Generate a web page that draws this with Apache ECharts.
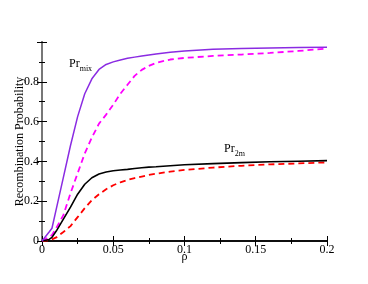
<!DOCTYPE html>
<html><head><meta charset="utf-8">
<script src="https://cdn.jsdelivr.net/npm/echarts@6/dist/echarts.min.js"></script>
<style>html,body{margin:0;padding:0;background:#fff}#c{width:368px;height:284px}</style>
</head><body><div id="c"></div>
<script>
const rho = [0,0.005,0.007,0.01,0.015,0.02,0.025,0.03,0.035,0.04,0.045,0.05,0.055,0.06,0.065,0.07,0.075,0.08,0.09,0.1,0.12,0.14,0.16,0.18,0.2];
const prMixSolid = [0,0.045,0.064,0.16,0.32,0.48,0.625,0.74,0.815,0.862,0.887,0.9,0.91,0.918,0.924,0.93,0.935,0.94,0.948,0.955,0.963,0.967,0.97,0.972,0.973];
const prMixDashed = [0,0.02,0.03,0.065,0.13,0.24,0.34,0.44,0.52,0.59,0.635,0.685,0.74,0.785,0.83,0.86,0.88,0.895,0.912,0.92,0.93,0.937,0.945,0.955,0.967];
const pr2mSolid = [0,0.008,0.018,0.05,0.11,0.17,0.235,0.285,0.318,0.337,0.347,0.353,0.357,0.36,0.364,0.368,0.371,0.373,0.378,0.383,0.389,0.394,0.398,0.401,0.404];
const pr2mDashed = [0,0.004,0.008,0.018,0.045,0.075,0.12,0.165,0.205,0.235,0.26,0.28,0.295,0.307,0.316,0.324,0.332,0.338,0.349,0.357,0.369,0.378,0.385,0.39,0.395];
const xTicks = [0,0.05,0.1,0.15,0.2];
const yTicks = [0,0.2,0.4,0.6,0.8];

const F = '"Liberation Serif","DejaVu Serif",serif';
const pairs = ys => rho.map((x,i)=>[x,ys[i]]);
const axLine = {show:true, lineStyle:{color:'#000', width:1.5}};
const tick = {show:true, inside:true, length:5, lineStyle:{color:'#000', width:1}};
const minor = {show:true, splitNumber:2, length:3, lineStyle:{color:'#000', width:1}};
const chart = echarts.init(document.getElementById('c'), null, {renderer:'canvas'});
chart.setOption({
  animation:false,
  backgroundColor:'#fff',
  grid:{left:42, right:41, top:42, bottom:43, containLabel:false, outerBoundsMode:'none'},
  xAxis:[
    {type:'value', min:0, max:0.2, interval:0.05, axisLine:axLine, axisTick:tick, minorTick:minor,
     splitLine:{show:false},
     axisLabel:{color:'#000', fontFamily:F, fontSize:12, margin:3, formatter:v=> xTicks.indexOf(+v.toFixed(3))>=0 ? String(+v.toFixed(3)) : ''},
     name:'ρ', nameLocation:'middle', nameGap:10, nameMoveOverlap:false, nameTextStyle:{color:'#000', fontFamily:F, fontSize:12, verticalAlign:'top'}},
    {type:'value', position:'top', min:0, max:0.2, interval:0.05, axisLine:axLine, axisTick:tick, minorTick:minor,
     splitLine:{show:false}, axisLabel:{show:false}}
  ],
  yAxis:[
    {type:'value', min:0, max:1, interval:0.2, axisLine:axLine, axisTick:tick, minorTick:minor,
     splitLine:{show:false},
     axisLabel:{color:'#000', fontFamily:F, fontSize:12, margin:3, formatter:v=> yTicks.indexOf(+v.toFixed(2))>=0 ? String(+v.toFixed(2)) : ''},
     name:'Recombination Probability', nameLocation:'middle', nameGap:16, nameRotate:90, nameMoveOverlap:false,
     nameTextStyle:{color:'#000', fontFamily:F, fontSize:12, verticalAlign:'bottom'}},
    {type:'value', position:'right', min:0, max:1, interval:0.2, axisLine:{show:true, lineStyle:{color:'#777', width:2}}, axisTick:tick, minorTick:minor,
     splitLine:{show:false}, axisLabel:{show:false}}
  ],
  series:[
    {type:'line', data:pairs(pr2mDashed), showSymbol:false, lineStyle:{color:'#ff0000', width:1.8, type:[6,4]}},
    {type:'line', data:pairs(prMixDashed), showSymbol:false, lineStyle:{color:'#ff00ff', width:1.8, type:[6,4]}},
    {type:'line', data:pairs(pr2mSolid), showSymbol:false, lineStyle:{color:'#000000', width:1.6}},
    {type:'line', data:pairs(prMixSolid), showSymbol:false, lineStyle:{color:'#8a2be2', width:1.5}}
  ],
  graphic:[
    {type:'text', left:69, top:58, style:{text:'{a|Pr}{b|mix}', rich:{a:{fontFamily:F, fontSize:12, fill:'#000'}, b:{fontFamily:F, fontSize:8, fill:'#000', padding:[9,0,0,0]}}}},
    {type:'text', left:224, top:143, style:{text:'{a|Pr}{b|2m}', rich:{a:{fontFamily:F, fontSize:12, fill:'#000'}, b:{fontFamily:F, fontSize:8, fill:'#000', padding:[9,0,0,0]}}}}
  ]
});
</script></body></html>
